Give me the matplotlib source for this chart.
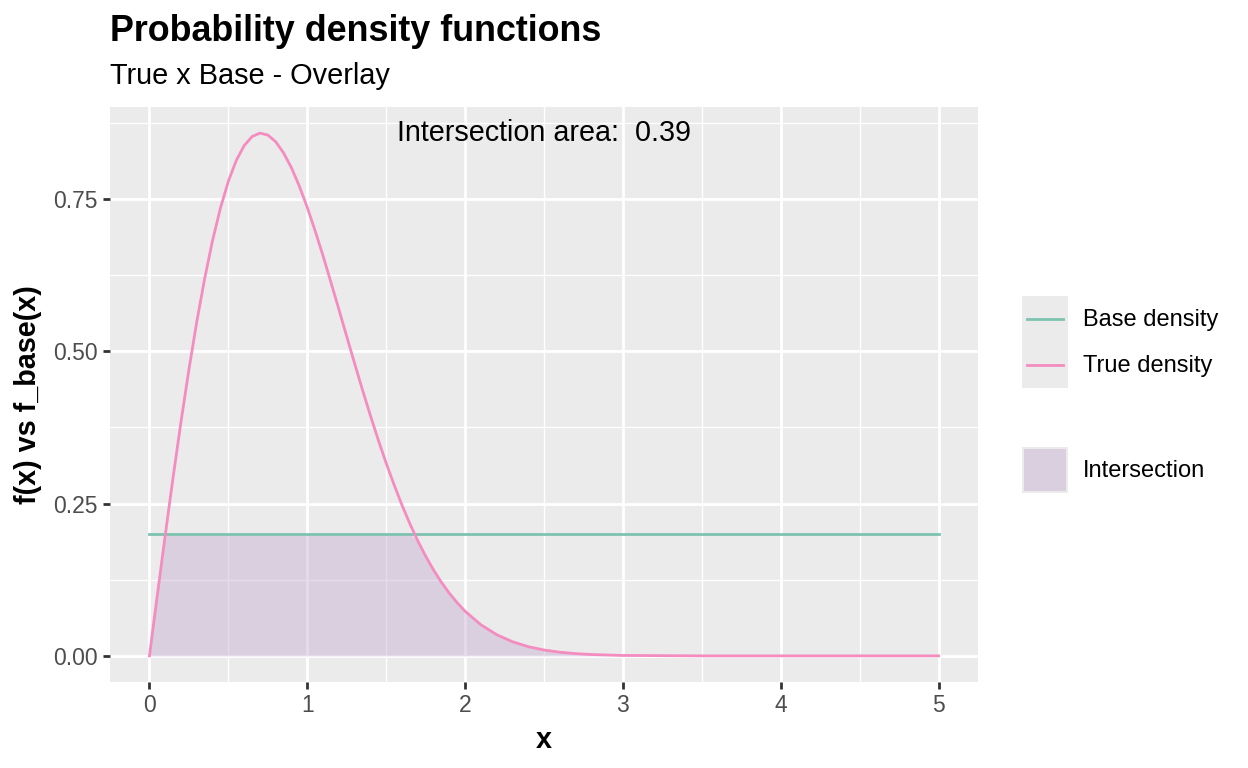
import numpy as np
import matplotlib
matplotlib.use("Agg")
import matplotlib.pyplot as plt
from matplotlib.patches import Rectangle
from matplotlib.lines import Line2D

plt.rcParams['font.family'] = ['Liberation Sans', 'DejaVu Sans']

# true density
true_x = [0.0, 0.05, 0.1, 0.15, 0.2, 0.25, 0.3, 0.35, 0.4, 0.45, 0.5,
          0.55, 0.6, 0.65, 0.7, 0.75, 0.8, 0.85, 0.9, 0.95, 1.0,
          1.05, 1.1, 1.15, 1.2, 1.25, 1.3, 1.35, 1.4, 1.45, 1.5,
          1.55, 1.6, 1.65, 1.7, 1.75, 1.8, 1.85, 1.9, 1.95, 2.0,
          2.1, 2.2, 2.3, 2.4, 2.5, 2.6, 2.7, 2.8, 3.0, 3.5, 4.0, 4.5, 5.0]
true_y = [0.0, 0.0998, 0.198, 0.2933, 0.3843, 0.4697, 0.5484, 0.6193, 0.6817, 0.7349, 0.7788,
          0.8128, 0.8372, 0.8520, 0.8577, 0.8546, 0.8436, 0.8252, 0.8007, 0.7705, 0.7358,
          0.6973, 0.6563, 0.6128, 0.5687, 0.5240, 0.4797, 0.4362, 0.3944, 0.3541, 0.3162,
          0.2808, 0.2474, 0.2169, 0.1889, 0.1637, 0.1410, 0.1207, 0.1028, 0.0872, 0.0733,
          0.0511, 0.0348, 0.0232, 0.0151, 0.0096, 0.0060, 0.0037, 0.0022, 0.0007, 0.0, 0.0, 0.0, 0.0]

base_x = [0.0, 5.0]
base_y = [0.2, 0.2]
area_label = "Intersection area:  0.39"

x_ticks = [0, 1, 2, 3, 4, 5]
y_ticks = [0.0, 0.25, 0.5, 0.75]
y_ticklabels = ["0.00", "0.25", "0.50", "0.75"]

c_base = "#7DC3B0"
c_true = "#F48CC0"
c_fill = "#C2A5CF"
panel_bg = "#EBEBEB"

W, H = 1248, 768
fig = plt.figure(figsize=(W / 100, H / 100), dpi=100)
ax = fig.add_axes([110 / W, 1 - 682 / H, (978 - 110) / W, (682 - 107) / H])
ax.set_facecolor(panel_bg)
for s in ax.spines.values():
    s.set_visible(False)

tx = np.array(true_x)
ty = np.array(true_y)
ax.fill_between(tx, 0, np.minimum(ty, base_y[0]), color=c_fill, alpha=0.4, lw=0, zorder=2)
ax.plot(base_x, base_y, color=c_base, lw=2.0, zorder=3)
ax.plot(tx, ty, color=c_true, lw=2.0, zorder=4)

ymax = ty.max()
ax.set_xlim(-0.25, 5.25)
ax.set_ylim(-0.05 * ymax, 1.05 * ymax)

ax.set_xticks(x_ticks)
ax.set_xticklabels([str(t) for t in x_ticks])
ax.set_yticks(y_ticks)
ax.set_yticklabels(y_ticklabels)
ax.set_xticks(np.arange(0.5, 5, 1.0), minor=True)
ax.set_yticks([0.125, 0.375, 0.625, 0.875], minor=True)
ax.grid(which='major', color='white', lw=2.0, zorder=0)
ax.grid(which='minor', color='white', lw=1.0, zorder=0)
ax.set_axisbelow(True)
ax.tick_params(which='major', length=5, width=2, color='#333333',
               labelsize=16.5, labelcolor='#4D4D4D', pad=4)
ax.tick_params(which='minor', length=0)

ax.set_xlabel("x", fontsize=20.7, fontweight='bold', labelpad=6)
ax.set_ylabel("f(x) vs f_base(x)", fontsize=20.7, fontweight='bold', labelpad=8)

ax.text(2.5, ymax, area_label, ha='center', va='center', fontsize=20.7, color='black', zorder=5)

fig.text(110 / W, 1 - 41 / H, "Probability density functions", fontsize=25.8,
         fontweight='bold', va='baseline', ha='left')
fig.text(110 / W, 1 - 84 / H, "True x Base - Overlay", fontsize=20.8,
         va='baseline', ha='left')

# legends drawn in pixel space
lg = fig.add_axes([0, 0, 1, 1], facecolor='none')
lg.set_xlim(0, W)
lg.set_ylim(H, 0)
lg.axis('off')
lg.add_patch(Rectangle((1022, 296), 46, 92, color=panel_bg, lw=0))
lg.add_line(Line2D([1027, 1063], [319, 319], color=c_base, lw=2.0))
lg.add_line(Line2D([1027, 1063], [365, 365], color=c_true, lw=2.0))
lg.text(1083, 320, "Base density", fontsize=17, va='center', ha='left')
lg.text(1083, 366, "True density", fontsize=17, va='center', ha='left')
lg.add_patch(Rectangle((1022, 447), 46, 46, color=panel_bg, lw=0))
lg.add_patch(Rectangle((1024, 449), 42, 42, facecolor=c_fill, alpha=0.4, lw=0))
lg.text(1083, 471, "Intersection", fontsize=17, va='center', ha='left')

fig.savefig("out.png", dpi=100)
